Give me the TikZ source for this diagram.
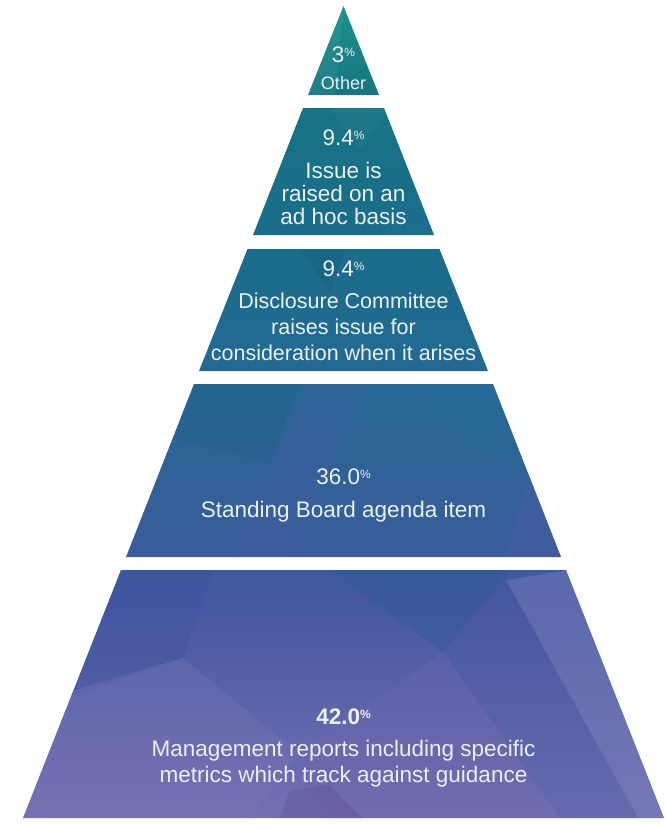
\documentclass[tikz,border=0pt]{standalone}
\usepackage{fontspec}
\setmainfont{Liberation Sans}

\definecolor{tierA}{HTML}{1E9288}
\definecolor{tierB}{HTML}{167583}
\definecolor{tierC}{HTML}{1A6C8A}
\definecolor{tierD}{HTML}{236A92}
\definecolor{tierE}{HTML}{2A6594}
\definecolor{tierF}{HTML}{3A5C9C}
\definecolor{tierG}{HTML}{4558A0}
\definecolor{tierH}{HTML}{7470B2}
\definecolor{darkteal}{HTML}{1F5E84}
\definecolor{midteal}{HTML}{22709A}
\definecolor{slate}{HTML}{2F5B96}
\definecolor{indigo}{HTML}{3A529C}
\definecolor{violet}{HTML}{4B5BA5}
\definecolor{lavender}{HTML}{7A80BC}
\definecolor{lilac}{HTML}{7A74B6}
\definecolor{plum}{HTML}{7066AE}
\definecolor{grape}{HTML}{5E4E94}
\definecolor{ink}{HTML}{EAF0F4}

% colour runs from teal at the apex down to violet at the base
\pgfdeclareverticalshading{pyramid}{100bp}{color(0bp)=(tierH); color(25.7bp)=(tierH);
  color(38.9bp)=(tierG); color(41.4bp)=(tierF); color(49.7bp)=(tierE);
  color(52.7bp)=(tierD); color(60.8bp)=(tierC); color(69.3bp)=(tierB);
  color(75bp)=(tierA); color(100bp)=(tierA)}

% the five tiers, apex first
\def\tiers{(343.5,6) -- (379,95) -- (308,95) -- cycle
  (303,108) -- (384,108) -- (434,235) -- (253,235) -- cycle
  (247.5,249) -- (439.5,249) -- (488,371) -- (199,371) -- cycle
  (194,384) -- (493,384) -- (561,557) -- (126,557) -- cycle
  (121,570) -- (566,570) -- (664,818) -- (23,818) -- cycle}

\newcommand\pc{\raisebox{6pt}{\fontsize{12}{12}\selectfont\%}}

\tikzset{
  pct/.style={text=ink,font=\fontsize{22.5}{26}\selectfont},
  lbl/.style={text=ink,align=center,font=\fontsize{22.5}{26}\selectfont},
  facet/.style={fill=#1,fill opacity=0.3}
}

\begin{document}
\begin{tikzpicture}[x=1pt,y=-1pt]
  \useasboundingbox (0,0) rectangle (666,830);
  \begin{scope}
    \clip \tiers;
    \shade[shading=pyramid] (0,0) rectangle (666,830);
    % facets
    \fill[facet=white,fill opacity=0.05] (343.5,6) -- (300,95) -- (335,95) -- cycle;
    \fill[facet=white,fill opacity=0.03] (330,108) -- (390,108) -- (360,150) -- cycle;
    \fill[facet=midteal] (380,235) -- (440,235) -- (420,180) -- cycle;
    \fill[facet=black,fill opacity=0.05] (300,249) -- (345,249) -- (330,292) -- cycle;
    \fill[facet=darkteal] (190,384) -- (300,384) -- (270,463) -- (175,440) -- cycle;
    \fill[facet=violet,fill opacity=0.25] (307,384) -- (367,384) -- (290,557) -- (230,557) -- cycle;
    \fill[facet=midteal] (420,384) -- (493,384) -- (520,470) -- (460,440) -- cycle;
    \fill[facet=violet,fill opacity=0.4] (530,470) -- (570,557) -- (505,557) -- cycle;
    \fill[facet=slate,fill opacity=0.45] (330,570) -- (510,570) -- (443,652) -- cycle;
    \fill[facet=indigo] (121,570) -- (213,570) -- (183,658) -- (60,700) -- cycle;
    \fill[facet=lavender,fill opacity=0.45] (506,580) -- (570,570) -- (664,818) -- (638,818) -- cycle;
    \fill[facet=violet] (506,580) -- (443,652) -- (560,818) -- (638,818) -- cycle;
    \fill[facet=lilac,fill opacity=0.35] (40,700) -- (183,658) -- (298,753) -- (250,818) -- (23,818) -- cycle;
    \fill[facet=plum,fill opacity=0.35] (298,753) -- (443,652) -- (560,818) -- (330,818) -- cycle;
    \fill[facet=grape,fill opacity=0.35] (290,790) -- (330,785) -- (362,818) -- (280,818) -- cycle;
  \end{scope}

  % figures and captions
  \node[pct] (otherpct) at (343.5,54.5) {3\pc};
  \node[lbl,font=\fontsize{18}{20}\selectfont] (other) at (343.5,83.5) {Other};
  \node[pct] (adhocpct) at (343.5,137.5) {9.4\pc};
  \node[lbl,font=\fontsize{22.5}{23}\selectfont] (adhoc) at (343.5,193) {Issue is\\raised on an\\ad hoc basis};
  \node[pct] (cttepct) at (343.5,269) {9.4\pc};
  \node[lbl,font=\fontsize{21.5}{26}\selectfont] (ctte) at (343.5,327) {Disclosure Committee\\raises issue for\\consideration when it arises};
  \node[pct] (boardpct) at (343.5,476.5) {36.0\pc};
  \node[lbl] (board) at (343.5,512) {Standing Board agenda item};
  \node[pct,font=\fontsize{22.5}{26}\selectfont\bfseries] (mgmtpct) at (343.5,716.5) {42.0\pc};
  \node[lbl] (mgmt) at (343.5,764) {Management reports including specific\\metrics which track against guidance};
\end{tikzpicture}
\end{document}
